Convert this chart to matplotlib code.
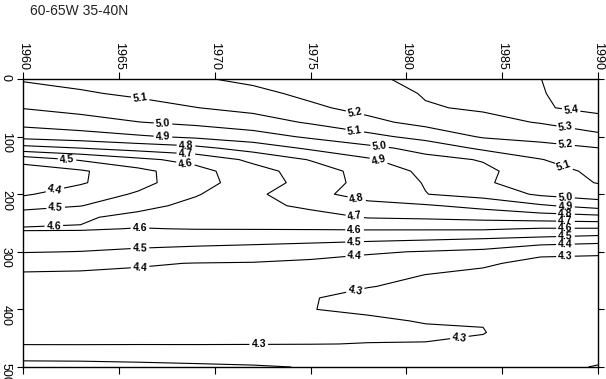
import matplotlib
matplotlib.use("Agg")
import matplotlib.pyplot as plt
import numpy as np

# ---------------- data ----------------
years = [1960, 1963, 1966, 1969, 1972, 1975, 1978, 1981, 1984, 1987, 1990]
depths = [0, 25, 50, 75, 100, 120, 140, 160, 180, 200, 220, 240, 260, 280,
          300, 320, 340, 360, 380, 400, 420, 440, 460, 480, 500]

# one profile (value at each depth) per year column
p1960 = [5.11, 5.057, 5.004, 4.934, 4.832, 4.664, 4.44, 4.34, 4.33, 4.388, 4.471, 4.548, 4.609,
         4.555, 4.505, 4.43, 4.39, 4.377, 4.364, 4.349, 4.334, 4.319, 4.304, 4.235, 4.16]
p1963 = [5.13, 5.089, 5.032, 4.962, 4.856, 4.70, 4.51, 4.387, 4.39, 4.449, 4.497, 4.585, 4.608,
         4.551, 4.498, 4.429, 4.385, 4.377, 4.362, 4.347, 4.333, 4.318, 4.304, 4.239, 4.16]
p1966 = [5.16, 5.117, 5.063, 4.998, 4.888, 4.74, 4.577, 4.47, 4.47, 4.511, 4.567, 4.631, 4.597,
         4.542, 4.481, 4.407, 4.387, 4.373, 4.359, 4.345, 4.331, 4.317, 4.303, 4.242, 4.17]
p1969 = [5.19, 5.145, 5.098, 5.024, 4.919, 4.773, 4.633, 4.565, 4.56, 4.591, 4.63, 4.657, 4.603,
         4.537, 4.465, 4.398, 4.384, 4.370, 4.357, 4.344, 4.330, 4.316, 4.303, 4.247, 4.18]
p1972 = [5.22, 5.176, 5.127, 5.058, 4.957, 4.842, 4.721, 4.663, 4.652, 4.678, 4.673, 4.638, 4.604,
         4.531, 4.45, 4.395, 4.381, 4.368, 4.355, 4.342, 4.328, 4.315, 4.302, 4.25, 4.19]
p1975 = [5.25, 5.222, 5.183, 5.111, 5.016, 4.916, 4.806, 4.745, 4.735, 4.768, 4.719, 4.665, 4.606,
         4.522, 4.432, 4.384, 4.36, 4.335, 4.303, 4.301, 4.303, 4.302, 4.301, 4.26, 4.205]
p1978 = [5.29, 5.25, 5.23, 5.175, 5.071, 4.974, 4.887, 4.842, 4.84, 4.845, 4.767, 4.706, 4.61,
         4.51, 4.41, 4.369, 4.336, 4.302, 4.284, 4.292, 4.308, 4.308, 4.299, 4.253, 4.21]
p1981 = [5.315, 5.308, 5.292, 5.23, 5.136, 5.031, 4.972, 4.92, 4.905, 4.898, 4.789, 4.715, 4.611,
         4.498, 4.395, 4.344, 4.299, 4.289, 4.281, 4.29, 4.297, 4.309, 4.298, 4.251, 4.21]
p1984 = [5.36, 5.336, 5.312, 5.271, 5.21, 5.12, 5.006, 4.98, 4.987, 4.936, 4.83, 4.73, 4.612,
         4.482, 4.378, 4.304, 4.294, 4.287, 4.28, 4.287, 4.295, 4.304, 4.281, 4.245, 4.21]
p1987 = [5.399, 5.396, 5.393, 5.306, 5.233, 5.164, 5.096, 5.051, 5.051, 5.016, 4.887, 4.75, 4.593,
         4.463, 4.3065, 4.292, 4.285, 4.276, 4.267, 4.257, 4.248, 4.238, 4.229, 4.22, 4.21]
p1990 = [5.46, 5.436, 5.42, 5.37, 5.271, 5.198, 5.16, 5.125, 5.104, 5.052, 4.94, 4.767, 4.592,
         4.436, 4.305, 4.29, 4.282, 4.272, 4.261, 4.251, 4.24, 4.23, 4.219, 4.209, 4.198]

levels = [4.2, 4.3, 4.4, 4.5, 4.6, 4.7, 4.8, 4.9, 5.0, 5.1, 5.2, 5.3, 5.4]

# where each contour is labelled (year, depth)
label_spots = {
    5.4: [(1988.6, 53)],
    5.3: [(1988.3, 87)],
    5.2: [(1977.3, 62), (1988.3, 116)],
    5.1: [(1966.1, 36), (1977.3, 92), (1988.3, 144)],
    5.0: [(1967.3, 80), (1978.6, 118), (1988.3, 210)],
    4.9: [(1967.3, 101), (1978.6, 137), (1988.3, 224)],
    4.8: [(1968.5, 118), (1977.4, 210), (1988.3, 238)],
    4.7: [(1968.5, 127), (1977.3, 241), (1988.3, 248)],
    4.6: [(1968.5, 142), (1961.6, 250), (1966.1, 259), (1977.3, 262), (1988.3, 259)],
    4.5: [(1962.3, 137), (1961.7, 222), (1966.1, 292), (1977.3, 281), (1988.3, 273)],
    4.4: [(1961.7, 198), (1966.1, 323), (1977.3, 304), (1988.3, 288)],
    4.3: [(1972.3, 465), (1977.3, 361), (1982.8, 457), (1988.3, 306)],
}

# ---------------- figure ----------------
W, H = 606, 379
fig = plt.figure(figsize=(W / 100, H / 100), dpi=100)
ax = fig.add_axes([23 / W, 1 - 367 / H, (598 - 23) / W, (367 - 79) / H])

Z = np.array([p1960, p1963, p1966, p1969, p1972, p1975, p1978, p1981,
              p1984, p1987, p1990]).T
X, Y = np.meshgrid(years, depths)

for lev in levels:
    cs = ax.contour(X, Y, Z, levels=[lev], colors="black", linewidths=0.8)
    pts = label_spots.get(lev)
    if pts:
        txts = ax.clabel(cs, manual=pts, fmt="%.1f", fontsize=7.5,
                         inline=True, inline_spacing=1)
        for t in txts:
            t.set_fontweight("bold")
            t.set_family("Liberation Sans")

ax.set_xlim(1960, 1990)
ax.set_ylim(500, 0)
ax.set_xticks(range(1960, 1991, 5))
ax.set_yticks(range(0, 501, 100))

ax.xaxis.tick_top()
ax.tick_params(axis="x", which="both", top=True, bottom=True, labeltop=True,
               labelbottom=False, direction="out", length=5, width=0.8,
               labelrotation=270, pad=1.5, labelsize=9)
ax.tick_params(axis="y", which="both", left=True, right=True, labelleft=True,
               labelright=False, direction="out", length=4, width=0.8,
               labelrotation=270, pad=4, labelsize=9)
for lab in ax.get_xticklabels() + ax.get_yticklabels():
    lab.set_family("Liberation Sans")

for sp in ax.spines.values():
    sp.set_linewidth(1.0)
    sp.set_color("black")

fig.text(30 / W, 1 - 4 / H, "60-65W 35-40N", ha="left", va="top",
         fontsize=10, family="Liberation Sans", color="#222222")

fig.savefig("out.png", dpi=100)
